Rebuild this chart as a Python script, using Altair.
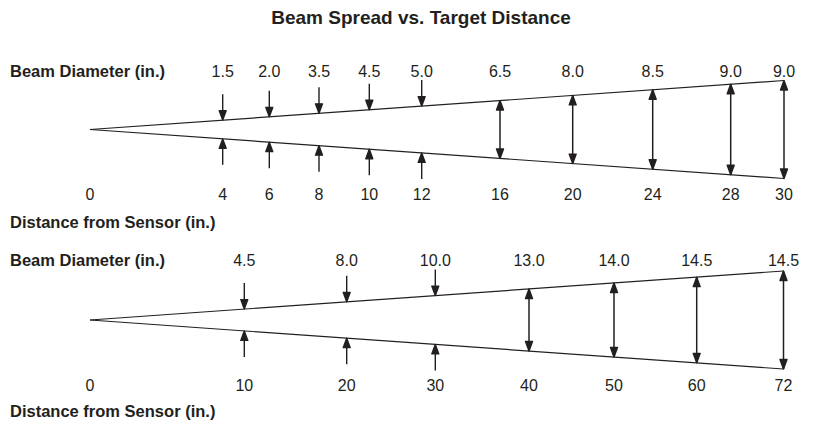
import altair as alt
import pandas as pd
import numpy as np

# ---------------- data ----------------
TITLE = "Beam Spread vs. Target Distance"
DIAM_LABEL = "Beam Diameter (in.)"
DIST_LABEL = "Distance from Sensor (in.)"

# panel 1
dist1 = [4, 6, 8, 10, 12, 16, 20, 24, 28, 30]
diam1 = [1.5, 2.0, 3.5, 4.5, 5.0, 6.5, 8.0, 8.5, 9.0, 9.0]
n_single1 = 5          # first five use the pair of inward arrows

# panel 2
dist2 = [10, 20, 30, 40, 50, 60, 72]
diam2 = [4.5, 8.0, 10.0, 13.0, 14.0, 14.5, 14.5]
n_single2 = 3

# ---------------- schematic layout (scale ranges, px) ----------------
xrange1 = [82, 214.7, 261.3, 311, 361.3, 413.7, 492, 564.7, 644.7, 722.7, 776]
xrange2 = [82, 236.3, 338.7, 427.3, 521, 606, 688.7, 775.5]

W = 798
INK = "#231f20"
FONT = "Liberation Sans"
NUM_SIZE = 16
LAB_SIZE = 16.5
TITLE_SIZE = 19

DOWN_SINGLE = "M0,0L-0.7,-1.9L0.7,-1.9Z M0,-1.9L0,-5.2"
UP_SINGLE = "M0,0L-0.7,1.9L0.7,1.9Z M0,1.9L0,5.2"
UP_HEAD = "M0,0L-0.7,1.9L0.7,1.9Z"
DOWN_HEAD = "M0,0L-0.7,-1.9L0.7,-1.9Z"


def panel(dist, diam, n_single, xrange, height, apex, half, lab_y, dist_y, distlab_y, title_y=None):
    domain = [0] + dist
    xs = alt.Scale(type="linear", domain=domain, range=xrange, nice=False, zero=False)
    ys = alt.Scale(type="linear", domain=[-1, 1], range=[apex + half, apex - half], nice=False, zero=False)
    X = alt.X("d:Q", scale=xs, axis=None)
    Y = alt.Y("e:Q", scale=ys, axis=None)

    # cone opening: edge height proportional to schematic position
    frac = [(np.interp(d, domain, xrange) - xrange[0]) / (xrange[-1] - xrange[0]) for d in dist]

    cone = pd.DataFrame({
        "d": [0, dist[-1], 0, dist[-1]],
        "e": [0, 1, 0, -1],
        "side": ["up", "up", "lo", "lo"],
    })
    pts = pd.DataFrame({"d": dist, "f": frac, "diam": diam})
    pts["e_up"] = pts["f"]
    pts["e_lo"] = -pts["f"]
    single = pts.iloc[:n_single]
    double = pts.iloc[n_single:]

    head = dict(size=100, filled=True, color=INK, stroke=INK, strokeWidth=1.4,
                strokeJoin="round", opacity=1)

    layers = []
    layers.append(
        alt.Chart(cone).mark_line(color=INK, strokeWidth=1.2).encode(
            x=X, y=Y, detail="side:N", order="d:Q"
        )
    )
    # single inward arrows
    layers.append(
        alt.Chart(single).mark_point(shape=DOWN_SINGLE, **head).encode(
            x=X, y=alt.Y("e_up:Q", scale=ys, axis=None))
    )
    layers.append(
        alt.Chart(single).mark_point(shape=UP_SINGLE, **head).encode(
            x=X, y=alt.Y("e_lo:Q", scale=ys, axis=None))
    )
    # double-headed arrows spanning the beam
    layers.append(
        alt.Chart(double).mark_rule(color=INK, strokeWidth=1.5).encode(
            x=X, y=alt.Y("e_lo:Q", scale=ys, axis=None), y2="e_up:Q"
        )
    )
    layers.append(
        alt.Chart(double).mark_point(shape=UP_HEAD, **head).encode(
            x=X, y=alt.Y("e_up:Q", scale=ys, axis=None))
    )
    layers.append(
        alt.Chart(double).mark_point(shape=DOWN_HEAD, **head).encode(
            x=X, y=alt.Y("e_lo:Q", scale=ys, axis=None))
    )
    # numbers
    layers.append(
        alt.Chart(pts).mark_text(font=FONT, fontSize=NUM_SIZE, color=INK, baseline="middle").encode(
            x=X, y=alt.value(lab_y), text=alt.Text("diam:Q", format=".1f")
        )
    )
    dlab = pd.DataFrame({"d": [0] + dist})
    layers.append(
        alt.Chart(dlab).mark_text(font=FONT, fontSize=NUM_SIZE, color=INK, baseline="middle").encode(
            x=X, y=alt.value(dist_y), text=alt.Text("d:Q", format="d")
        )
    )
    # row titles
    layers.append(
        alt.Chart(pd.DataFrame({"t": [DIAM_LABEL]})).mark_text(
            font=FONT, fontSize=LAB_SIZE, fontWeight="bold", color=INK, align="left", baseline="middle"
        ).encode(x=alt.value(2), y=alt.value(lab_y), text="t:N")
    )
    layers.append(
        alt.Chart(pd.DataFrame({"t": [DIST_LABEL]})).mark_text(
            font=FONT, fontSize=LAB_SIZE, fontWeight="bold", color=INK, align="left", baseline="middle"
        ).encode(x=alt.value(2), y=alt.value(distlab_y), text="t:N")
    )
    if title_y is not None:
        layers.append(
            alt.Chart(pd.DataFrame({"t": [TITLE]})).mark_text(
                font=FONT, fontSize=TITLE_SIZE, fontWeight="bold", color=INK, align="center", baseline="middle"
            ).encode(x=alt.value(W / 2 + 14), y=alt.value(title_y), text="t:N")
        )
    return alt.layer(*layers).properties(width=W, height=height)


p1 = panel(dist1, diam1, n_single1, xrange1, 224, 121.5, 49, 63.5, 187, 215, title_y=9.5)
p2 = panel(dist2, diam2, n_single2, xrange2, 185, 88, 49, 29, 154, 180)

chart = alt.vconcat(p1, p2, spacing=0, bounds="flush").properties(
    padding=0
).configure_view(stroke=None)

chart.save("out.html", embed_options={"renderer": "svg", "actions": False})
